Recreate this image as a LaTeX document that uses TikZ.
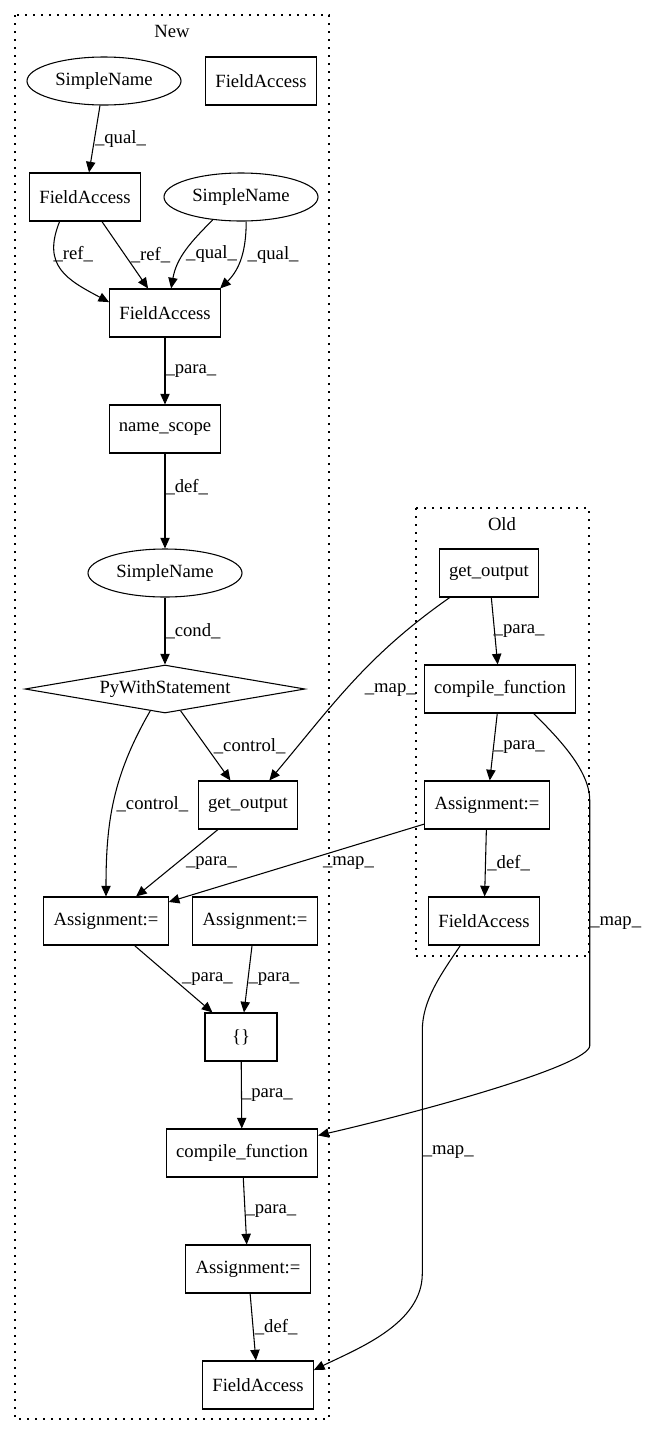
\documentclass[tikz,border=0pt]{standalone}
\usepackage{fontspec}
\setmainfont{Liberation Serif}
\usetikzlibrary{arrows.meta,shapes.geometric}

\tikzset{
  box/.style={draw, rectangle, line width=0.8pt, minimum height=36pt, minimum width=54pt, inner xsep=7.3pt},
  oval/.style={draw, ellipse, line width=0.8pt, minimum width=115.5pt, minimum height=36pt, inner sep=0pt},
  cond/.style={draw, diamond, aspect=5.8, line width=0.8pt, minimum width=210pt, minimum height=36pt, inner sep=0pt},
  cluster/.style={draw, line width=1pt, dash pattern=on 1.5pt off 4.5pt},
  flow/.style={->, line width=0.8pt},
  lbl/.style={anchor=west, inner sep=0pt}
}

\begin{document}
\begin{tikzpicture}[x=0.75pt, y=0.75pt, font=\fontsize{14}{16}\selectfont,
    >={Triangle[length=8pt,width=7pt]}]
  \useasboundingbox (0,0) rectangle (645,-1436);

  % clusters
  \draw[cluster] (15,-15) rectangle (329,-1419);
  \draw[cluster] (416,-508) rectangle (589,-956);
  \node (lnew) at (172,-31) {New};
  \node (lold) at (502,-524) {Old};

  % New
  \node[oval] (sn1) at (104,-81) {SimpleName};
  \node[box] (fa1) at (261,-81) {FieldAccess};
  \node[box] (fa2) at (85,-197) {FieldAccess};
  \node[oval] (sn2) at (241,-197) {SimpleName};
  \node[box] (fa3) at (165,-313) {FieldAccess};
  \node[box] (ns) at (165,-429) {name\_scope};
  \node[oval] (sn3) at (165,-573) {SimpleName};
  \node[cond] (pyw) at (165,-689) {PyWithStatement};
  \node[box] (gon) at (248,-805) {get\_output};
  \node[box] (as1) at (106,-921) {Assignment:=};
  \node[box] (as2) at (255,-921) {Assignment:=};
  \node[box] (br) at (241,-1037) {\{\}};
  \node[box] (cfn) at (242,-1153) {compile\_function};
  \node[box] (as3) at (248,-1269) {Assignment:=};
  \node[box] (fab) at (258,-1385) {FieldAccess};

  % Old
  \node[box] (goo) at (489,-573) {get\_output};
  \node[box] (cfo) at (500,-689) {compile\_function};
  \node[box] (aso) at (487,-805) {Assignment:=};
  \node[box] (fao) at (484,-921) {FieldAccess};

  % edges
  \draw[flow] (sn1) -- node[lbl] (q1) {\_qual\_} (fa2);
  \draw[flow] (fa2.224) to[out=248, in=152, out distance=36pt, in distance=35.5pt]
    node[lbl, pos=0.3, xshift=-1pt] (r1) {\_ref\_} (fa3.169);
  \draw[flow] (fa2) -- node[lbl, xshift=4pt] (r2) {\_ref\_} (fa3);
  \draw[flow] (sn2.219) to[out=225, in=80] node[lbl, pos=0.55, xshift=1.5pt] (q2) {\_qual\_} (fa3.76);
  \draw[flow] (sn2.282) to[out=270, in=44] node[lbl, pos=0.45, xshift=4pt] (q3) {\_qual\_} (fa3.24);
  \draw[flow] (fa3) -- node[lbl] (p1) {\_para\_} (ns);
  \draw[flow] (ns) -- node[lbl, pos=0.35] (d1) {\_def\_} (sn3);
  \draw[flow] (sn3) -- node[lbl] (c1) {\_cond\_} (pyw);
  \draw[flow] (pyw) -- node[lbl, pos=0.51, xshift=5.5pt] (k1) {\_control\_} (gon);
  \draw[flow] (pyw.236) to[out=240, in=90] node[lbl, pos=0.5, xshift=1.5pt, yshift=-3pt] (k2) {\_control\_} (as1.north);
  \draw[flow] (gon) -- node[lbl, xshift=6.4pt] (p2) {\_para\_} (as1);
  \draw[flow] (as1) -- node[lbl, xshift=6pt] (p3) {\_para\_} (br);
  \draw[flow] (as2) -- node[lbl] (p4) {\_para\_} (br);
  \draw[flow] (br) -- node[lbl] (p5) {\_para\_} (cfn);
  \draw[flow] (cfn) -- node[lbl] (p6) {\_para\_} (as3);
  \draw[flow] (as3) -- node[lbl, xshift=1pt] (d2) {\_def\_} (fab);

  \draw[flow] (goo) -- node[lbl, xshift=-1pt] (p7) {\_para\_} (cfo);
  \draw[flow] (cfo) -- node[lbl] (p8) {\_para\_} (aso);
  \draw[flow] (aso) -- node[lbl, xshift=1pt] (d3) {\_def\_} (fao);

  % maps between versions
  \draw[flow] (goo.212) to[out=215, in=50] node[lbl, pos=0.5, xshift=8.6pt, yshift=-6pt] (m1) {\_map\_} (gon.49);
  \draw[flow] (aso) -- node[lbl, xshift=19.5pt] (m2) {\_map\_} (as1);
  \draw[flow] (cfo.324) to[out=-45, in=90, out distance=26.5pt, in distance=22.5pt] ++(56,-87)
    -- node[lbl] (m3) {\_map\_} ++(0,-245)
    to[out=-90, in=13, out distance=15pt, in distance=79.5pt] (cfn.13);
  \draw[flow] (fao.226) to[out=236, in=90, out distance=27pt, in distance=22.5pt] ++(-38,-85)
    -- node[lbl] (m4) {\_map\_} ++(0,-243)
    to[out=-90, in=26, out distance=37.5pt, in distance=37.5pt] (fab.15);
\end{tikzpicture}
\end{document}
